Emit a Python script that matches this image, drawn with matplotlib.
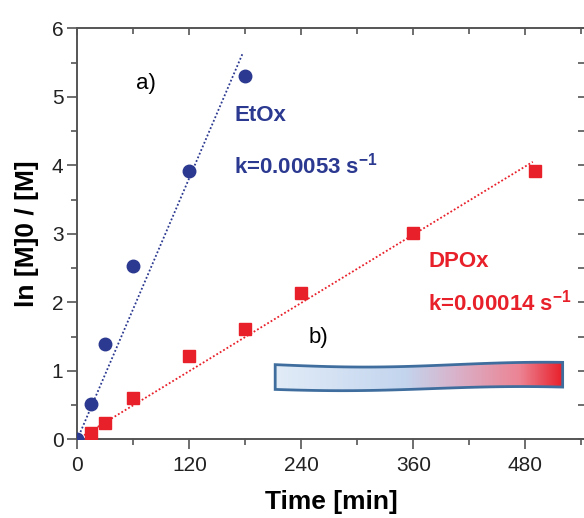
import numpy as np
import matplotlib
matplotlib.use("Agg")
import matplotlib.pyplot as plt
from matplotlib.path import Path
from matplotlib.patches import PathPatch
from matplotlib.colors import LinearSegmentedColormap

plt.rcParams['font.family'] = ['Liberation Sans', 'DejaVu Sans']
plt.rcParams['mathtext.fontset'] = 'custom'
plt.rcParams['mathtext.rm'] = 'Liberation Sans'
plt.rcParams['mathtext.bf'] = 'Liberation Sans:bold'

# EtOx kinetics (blue circles)
etox_time = [0, 15, 30, 60, 120, 180]
etox_ln = [0.0, 0.51, 1.39, 2.53, 3.92, 5.30]
etox_fit_time = [0, 177]
etox_slope = 0.0318  # per min (0.00053 s^-1)

# DPOx kinetics (red squares)
dpox_time = [15, 30, 60, 120, 180, 240, 360, 490]
dpox_ln = [0.09, 0.24, 0.61, 1.21, 1.61, 2.13, 3.01, 3.92]
dpox_fit_time = [0, 488]
dpox_slope = 0.0083  # per min (0.00014 s^-1)

x_ticks = [0, 120, 240, 360, 480]
y_ticks = [0, 1, 2, 3, 4, 5, 6]

BLUE = '#2b3990'
RED = '#e8202a'
GREY = '#555555'

fig = plt.figure(figsize=(5.84, 5.18), dpi=100)
ax = fig.add_axes([0.1324, 0.1519, 0.8694, 0.7935])

# fit lines
fx = np.array(etox_fit_time)
ax.plot(fx, etox_slope * fx, ls=(0, (1, 1.2)), color=BLUE, lw=1.3)
fx = np.array(dpox_fit_time)
ax.plot(fx, dpox_slope * fx, ls=(0, (1, 1.2)), color=RED, lw=1.3)

# data points
ax.plot(etox_time, etox_ln, 'o', color=BLUE, ms=9, zorder=3)
ax.plot(dpox_time, dpox_ln, 's', color=RED, ms=9, zorder=3)

ax.set_xlim(0, 544)
ax.set_ylim(0, 6)
ax.set_xticks(x_ticks)
ax.set_yticks(y_ticks)
ax.set_xticks(np.arange(60, 544, 120), minor=True)
ax.set_yticks(np.arange(0.5, 6, 1), minor=True)
ax.tick_params(which='major', direction='out', length=7, width=1.2,
               color=GREY, labelsize=15, labelcolor='#222222')
ax.tick_params(axis='x', which='major', pad=5)
ax.tick_params(axis='y', which='major', pad=3)
ax.tick_params(which='minor', direction='out', length=4, width=1.2, color=GREY)
for sp in ax.spines.values():
    sp.set_color(GREY)
    sp.set_linewidth(1.4)
ax.spines['right'].set_visible(False)

# mirrored ticks on top and right, pointing inward
top = ax.secondary_xaxis('top')
top.set_xticks(x_ticks)
top.set_xticks(np.arange(60, 544, 120), minor=True)
top.tick_params(which='both', direction='in', length=5, width=1.2,
                color=GREY, labeltop=False)
top.tick_params(which='minor', length=4)
top.spines['top'].set_visible(False)
right = ax.secondary_yaxis('right')
right.set_yticks(y_ticks)
right.set_yticks(np.arange(0.5, 6, 1), minor=True)
right.tick_params(which='both', direction='in', length=5, width=1.2,
                  color=GREY, labelright=False)
right.spines['right'].set_visible(False)

ax.set_xlabel('Time [min]', fontsize=19, fontweight='bold', labelpad=11)
ax.set_ylabel('ln [M]0 / [M]', fontsize=19, fontweight='bold', labelpad=9)

# annotations
ax.text(63, 5.12, 'a)', fontsize=16, color='black')
ax.text(168, 4.72, 'EtOx', fontsize=16, fontweight='bold', color=BLUE, va='center')
ax.text(168, 4.0, r'k=0.00053 s$^{\mathbf{-1}}$', fontsize=16,
        fontweight='bold', color=BLUE, va='center')
ax.text(376, 2.59, 'DPOx', fontsize=16, fontweight='bold', color=RED, va='center')
ax.text(376, 2.0, r'k=0.00014 s$^{\mathbf{-1}}$', fontsize=16,
        fontweight='bold', color=RED, va='center')
ax.text(248, 1.40, 'b)', fontsize=16, color='black')

# wavy gradient banner
x0, x1 = 212, 520
xs = np.linspace(x0, x1, 80)
ph = (xs - x0) / (x1 - x0)
top_y = 1.09 - 0.035 * np.sin(ph * np.pi * 1.6)
bot_y = 0.74 - 0.03 * np.sin(ph * np.pi * 1.6 + 0.4)
verts = list(zip(xs, top_y)) + list(zip(xs[::-1], bot_y[::-1])) + [(xs[0], top_y[0])]
codes = [Path.MOVETO] + [Path.LINETO] * (len(verts) - 2) + [Path.CLOSEPOLY]
banner = PathPatch(Path(verts, codes), facecolor='none', edgecolor='#3f6e9e',
                   lw=2, zorder=5)
ax.add_patch(banner)
cmap = LinearSegmentedColormap.from_list(
    'band', [(0, '#e2ecf8'), (0.45, '#c3d5ee'), (0.62, '#d8b4cc'),
             (0.85, '#ec8494'), (1.0, '#e8202a')])
grad = np.linspace(0, 1, 256).reshape(1, -1)
im = ax.imshow(grad, cmap=cmap, aspect='auto', extent=(x0, x1, 0.68, 1.15),
               zorder=4)
im.set_clip_path(banner)
ax.set_xlim(0, 544)
ax.set_ylim(0, 6)

fig.savefig('out.png', dpi=100)
